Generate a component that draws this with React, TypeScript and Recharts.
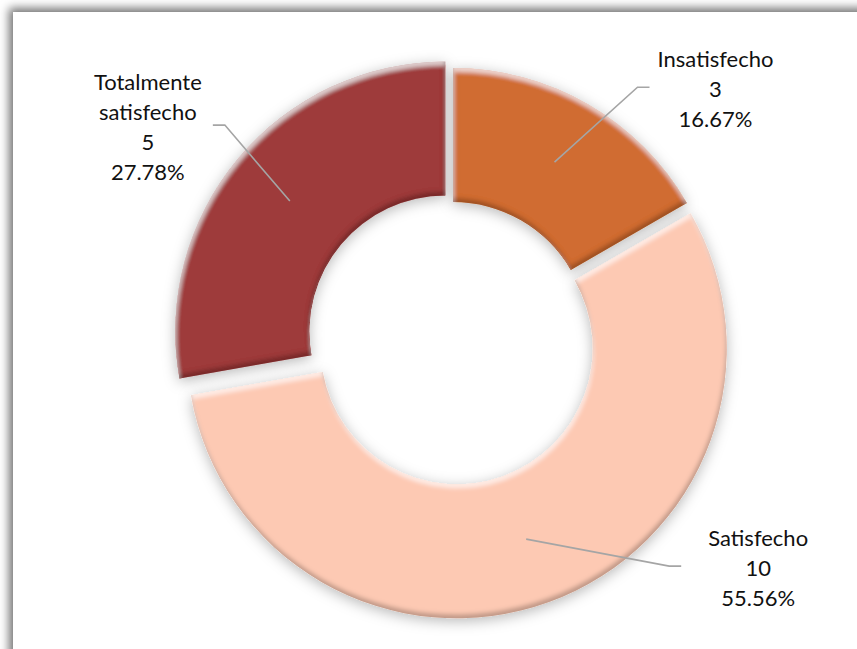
import React from 'react';
import { PieChart, Pie, Cell } from 'recharts';

// ---- data ----
const categories = ['Insatisfecho', 'Satisfecho', 'Totalmente satisfecho'];
const counts = [3, 10, 5];

// ---- styles ----
const COLORS = ['#D06C30', '#FDC9B3', '#9E3B3B'];
const EXPLODE = [0, 11, 10];
const LABEL_SHIFT: [number, number][] = [[161, -74], [232, 28], [-142, -75]];
const LEADER_GAP = [66, 77, 65];
const CX = 453;
const CY = 338;
const R_IN = 136;
const R_OUT = 270;
const START = 90;
const RAD = Math.PI / 180;

const data = categories.map((name, i) => ({ name, value: counts[i] }));
const total = counts.reduce((a, b) => a + b, 0);

function midAngleOf(i: number) {
  const before = counts.slice(0, i).reduce((a, b) => a + b, 0);
  const mid = before + counts[i] / 2;
  return START - (mid / total) * 360;
}

const makeLabel = (target: number) => (props: any) => {
  const { cx, cy, midAngle, innerRadius, outerRadius, index } = props;
  if (index !== target) return <g />;
  const rm = (innerRadius + outerRadius) / 2;
  const ax = cx + rm * Math.cos(midAngle * RAD);
  const ay = cy - rm * Math.sin(midAngle * RAD);
  const [sx, sy] = LABEL_SHIFT[index];
  const lx = ax + sx;
  const ly = ay + sy;
  const dir = sx > 0 ? -1 : 1;
  const endX = lx + dir * LEADER_GAP[index];
  const elbowX = endX + dir * 12;
  const value = counts[index];
  const name = categories[index];
  const nameLines = name.length > 12 ? name.split(' ') : [name];
  const lines = [...nameLines, String(value), ((value / total) * 100).toFixed(2) + '%'];
  const lh = 30;
  return (
    <g>
      <polyline
        points={`${ax},${ay} ${elbowX},${ly - 1} ${endX},${ly - 1}`}
        fill="none"
        stroke="#A5A5A5"
        strokeWidth={1.6}
      />
      <text
        x={lx}
        y={ly}
        textAnchor="middle"
        fontFamily="Lato, 'Open Sans', sans-serif"
        fontSize={22}
        fill="#111"
      >
        {lines.map((t, k) => (
          <tspan key={k} x={lx} y={ly + (k - (lines.length - 1) / 2) * lh} dominantBaseline="central">
            {t}
          </tspan>
        ))}
      </text>
    </g>
  );
};

export default function App() {
  return (
    <div
      style={{
        position: 'absolute',
        left: 0,
        top: 0,
        width: 857,
        height: 649,
        overflow: 'hidden',
        background: '#fff',
      }}
    >
      <div
        style={{
          position: 'absolute',
          left: 13,
          top: 12,
          width: 900,
          height: 700,
          background: '#fff',
          boxShadow: '-4px -4px 9px rgba(0,0,0,0.55)',
        }}
      />
      <div style={{ position: 'absolute', left: 0, top: 0 }}>
        <PieChart width={857} height={649} margin={{ top: 0, right: 0, bottom: 0, left: 0 }}>
          <defs>
            <filter id="bevel" x="-20%" y="-20%" width="140%" height="140%">
              <feGaussianBlur in="SourceAlpha" stdDeviation="7" result="sh0" />
              <feOffset in="sh0" dx="0" dy="3" result="sh1" />
              <feFlood floodColor="#000" floodOpacity="0.28" result="shc" />
              <feComposite in="shc" in2="sh1" operator="in" result="shadow" />
              <feGaussianBlur in="SourceAlpha" stdDeviation="2.2" result="b" />
              <feOffset in="b" dx="1" dy="4" result="bDown" />
              <feComposite in="SourceAlpha" in2="bDown" operator="arithmetic" k1="0" k2="1" k3="-1" k4="0" result="hiRaw" />
              <feFlood floodColor="#fff" floodOpacity="0.6" result="hic" />
              <feComposite in="hic" in2="hiRaw" operator="in" result="hi" />
              <feOffset in="b" dx="-1" dy="-4" result="bUp" />
              <feComposite in="SourceAlpha" in2="bUp" operator="arithmetic" k1="0" k2="1" k3="-1" k4="0" result="loRaw" />
              <feFlood floodColor="#000" floodOpacity="0.45" result="loc" />
              <feComposite in="loc" in2="loRaw" operator="in" result="lo" />
              <feMerge>
                <feMergeNode in="shadow" />
                <feMergeNode in="SourceGraphic" />
                <feMergeNode in="hi" />
                <feMergeNode in="lo" />
              </feMerge>
            </filter>
          </defs>
          {categories.map((_, i) => {
            const m = midAngleOf(i);
            const cx = CX + EXPLODE[i] * Math.cos(m * RAD);
            const cy = CY - EXPLODE[i] * Math.sin(m * RAD);
            return (
              <Pie
                key={i}
                data={data}
                dataKey="value"
                nameKey="name"
                cx={cx}
                cy={cy}
                innerRadius={R_IN}
                outerRadius={R_OUT}
                startAngle={START}
                endAngle={START - 360}
                stroke="none"
                isAnimationActive={false}
                labelLine={false}
                label={makeLabel(i)}
              >
                {data.map((_, j) => (
                  <Cell
                    key={j}
                    fill={j === i ? COLORS[j] : 'transparent'}
                    filter={j === i ? 'url(#bevel)' : undefined}
                  />
                ))}
              </Pie>
            );
          })}
        </PieChart>
      </div>
    </div>
  );
}
